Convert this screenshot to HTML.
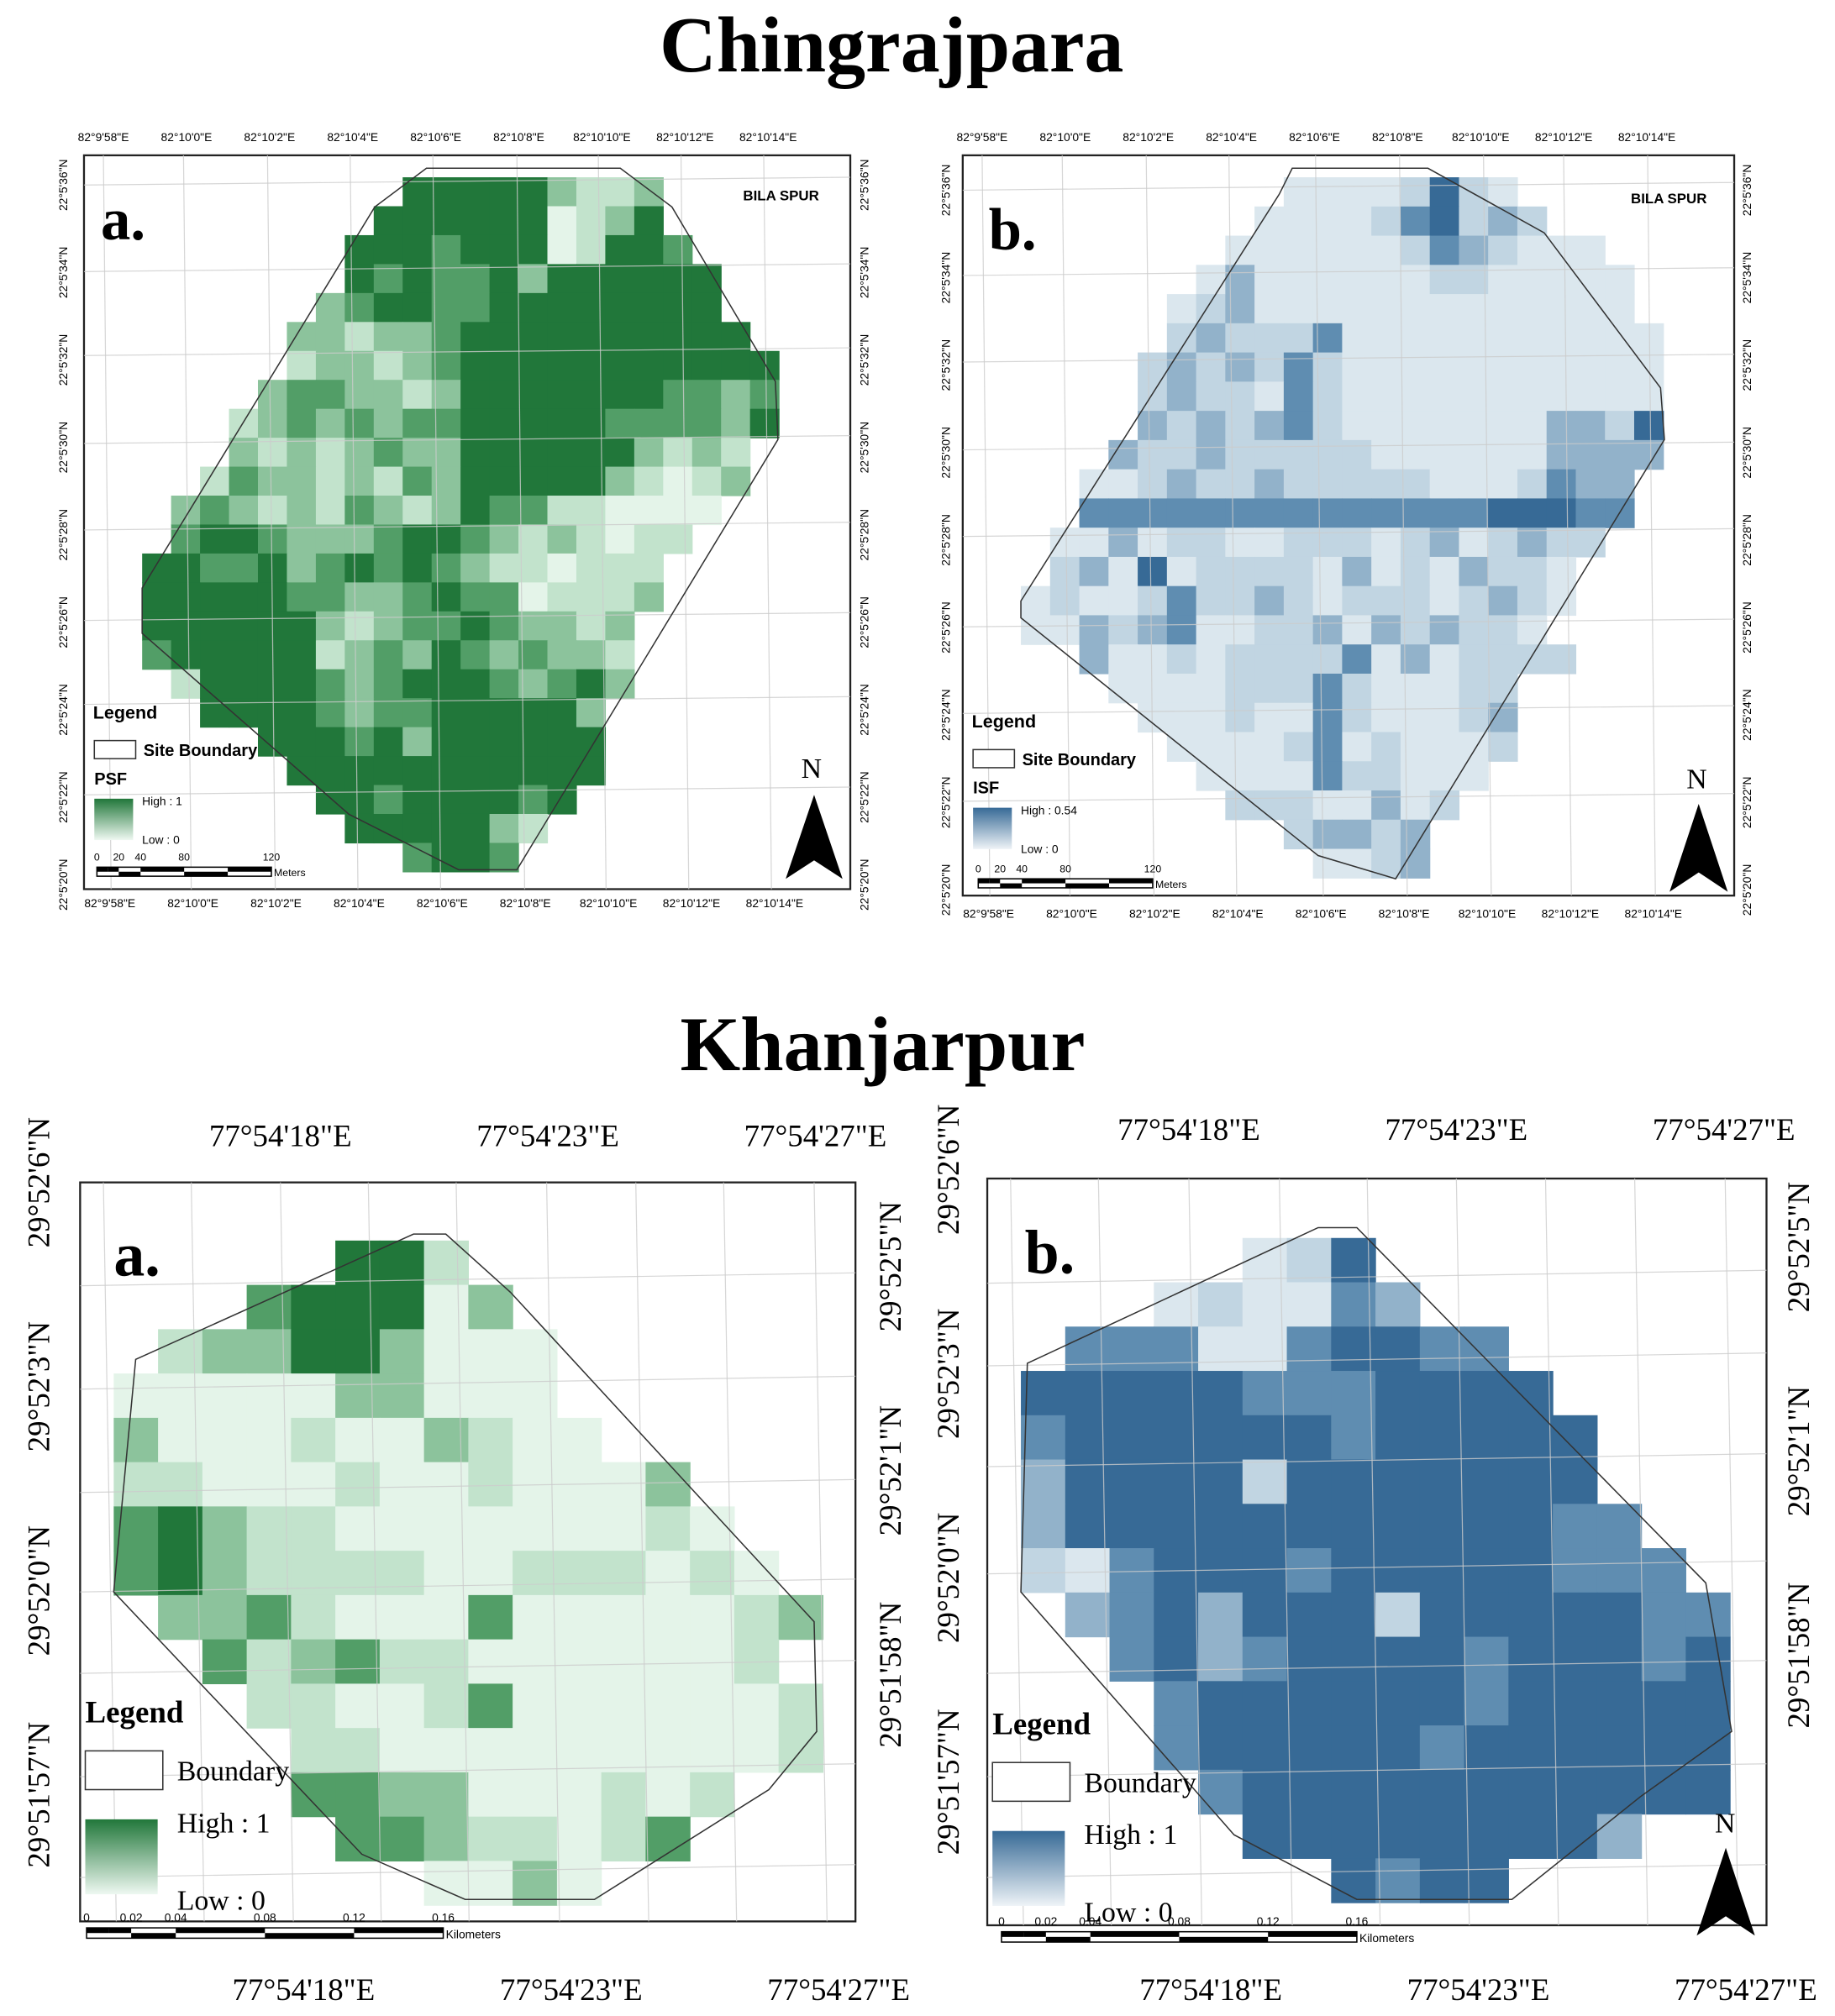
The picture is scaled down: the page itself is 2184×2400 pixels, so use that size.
<!DOCTYPE html>
<html><head><meta charset="utf-8"><style>
html,body{margin:0;padding:0;background:#fff}
svg{display:block}
.s{font-family:"Liberation Sans",sans-serif}
.r{font-family:"Liberation Serif",serif}
</style></head><body>
<svg id="fig" width="2184" height="2400" viewBox="0 0 1420 1560" xmlns="http://www.w3.org/2000/svg">
<rect width="1420" height="1560" fill="#fff"/>
<text x="690" y="55" text-anchor="middle" class="r" font-weight="bold" font-size="61">Chingrajpara</text>
<text x="683" y="828" text-anchor="middle" class="r" font-weight="bold" font-size="60">Khanjarpur</text>
<g id="layer"></g>
</svg>
<script>
// ---------- data ----------
const tlRows=[".........444442112","........4444440124",".......444344401443",".......4343342444444","......23443344444444",".....2212234444444444",".....12212344444444444","....233221244444443323","...1232323344444333324","...212123224444442121","..1322121324444421012",".2321213212433110000",".344322234432121011","443342343432110111","444443322343301112","44444421233432212","34444412324323221",".1444432344432342","..44443233444442","....444342444444",".....44444444444","......443444434",".......4444421",".........3443"];
const trRows=[".........00001410","........0000134121",".......0000001321000","......020000001100000",".....0120000000000000",".....12111300000000000","....121213100000000000","....121103100000000000","....212123100000002214","...2112111110000002222","..0012112111110001322","..3333333333333344433",".0020110011101201211",".120401111020102110","0100131121011101210","002123001120212110","..20010111130201111","...00001113100011","....0001003100012",".....000013010001","......0000311000",".......11100201",".........12212","..........0012"];
const blRows=[".....441","...344402",".122442000","0000022000","20001002100","1100010010002","34211000000010","342111100111010",".223100030000012","..3123110000001","...1100130000001","....110000000001","....3322000101",".....33211013",".......0020"];
const brRows=[".....014","...010032",".3330034433","444443334444","3444444344444","2444414444444","24444444444433","103444344444333",".234244414444433","..34234444344434","...3444444344444","...3444443444444","....344444444444",".....444444442",".......4344"];
const greens=["#e4f4e9","#c2e3cc","#8cc39c","#529e67","#21773a"];
const blues=["#dbe7ee","#c1d5e2","#92b2ca","#5f8db1","#376a96"];
const topLon=["82°9'58\"E","82°10'0\"E","82°10'2\"E","82°10'4\"E","82°10'6\"E","82°10'8\"E","82°10'10\"E","82°10'12\"E","82°10'14\"E"];
const topLat=["22°5'36\"N","22°5'34\"N","22°5'32\"N","22°5'30\"N","22°5'28\"N","22°5'26\"N","22°5'24\"N","22°5'22\"N","22°5'20\"N"];
const botLon=["77°54'18\"E","77°54'23\"E","77°54'27\"E"];
const botLatL=["29°52'6\"N","29°52'3\"N","29°52'0\"N","29°51'57\"N"];
const botLatR=["29°52'5\"N","29°52'1\"N","29°51'58\"N"];
const scaleTop=["0","20","40","80","120"];
const scaleBot=["0","0.02","0.04","0.08","0.12","0.16"];

const NS="http://www.w3.org/2000/svg";
const L=document.getElementById('layer');
function mk(tag,attrs,parent,txt){const e=document.createElementNS(NS,tag);for(const k in attrs)e.setAttribute(k,attrs[k]);if(txt!==undefined)e.textContent=txt;(parent||L).appendChild(e);return e;}

function panel(o){
  const g=mk('g',{});
  
  
  mk('rect',{x:o.fx,y:o.fy,width:o.fw,height:o.fh,fill:'#fff',stroke:'#222','stroke-width':1.5},g);
  o.rows.forEach((row,r)=>{for(let c=0;c<row.length;c++){const ch=row[c];if(ch==='.')continue;
    const cell=mk('rect',{x:o.gx+c*o.cw,y:o.gy+r*o.ch,width:o.cw+0.4,height:o.ch+0.4,fill:o.pal[+ch]},g);
    
    }});
  o.vx.forEach(x=>mk('line',{x1:x,y1:o.fy,x2:x+o.tilt,y2:o.fy+o.fh,stroke:'#ccc','stroke-width':0.8,opacity:0.8},g));
  o.hy.forEach(y=>mk('line',{x1:o.fx,y1:y,x2:o.fx+o.fw,y2:y-o.tilt,stroke:'#ccc','stroke-width':0.8,opacity:0.8},g));
  const b=mk('polygon',{points:o.bnd,fill:'none',stroke:'#333','stroke-width':1},g);
  
  
  return g;
}
function arrow(x,y,w,h){const g=mk('g',{});
  
  
  mk('polygon',{points:`${x+w/2},${y} ${x},${y+h} ${x+w/2},${y+h*0.78} ${x+w},${y+h}`,fill:'#000'},g);}

panel({name:'psf-map-chingrajpara',fx:65,fy:120,fw:593,fh:568,gx:110,gy:137,cw:22.4,ch:22.4,rows:tlRows,pal:greens,
 vx:[80,142,207,271,335,400,463,527,591],hy:[143,210,275,343,410,480,545,615],tilt:6,
 bnd:"330,130 480,130 520,160 600,295 602,340 400,673 355,673 270,630 110,490 110,455 290,160"});
panel({name:'isf-map-chingrajpara',fx:745,fy:120,fw:597,fh:573,gx:790,gy:137,cw:22.6,ch:22.6,rows:trRows,pal:blues,
 vx:[760,822,887,951,1018,1083,1148,1210,1275],hy:[147,213,280,348,415,485,552,620],tilt:6,
 bnd:"1000,130 1105,130 1195,180 1285,300 1288,340 1080,680 1020,662 790,478 790,465 990,150"});
panel({name:'psf-map-khanjarpur',fx:62,fy:915,fw:600,fh:572,gx:88,gy:960,cw:34.3,ch:34.3,rows:blRows,pal:greens,
 vx:[80,148,217,285,353,423,492,560,630],hy:[995,1075,1155,1232,1295,1375,1453],tilt:10,
 bnd:"105,1052 320,955 345,955 395,1000 630,1255 632,1340 595,1385 460,1470 360,1470 280,1435 88,1232"});
panel({name:'isf-map-khanjarpur',fx:764,fy:912,fw:603,fh:578,gx:790,gy:958,cw:34.3,ch:34.3,rows:brRows,pal:blues,
 vx:[782,850,920,990,1058,1127,1196,1265,1335],hy:[993,1057,1135,1218,1295,1375,1453],tilt:10,
 bnd:"795,1055 1020,950 1050,950 1320,1225 1340,1340 1270,1390 1170,1470 1050,1470 955,1420 790,1232"});

function txt(name,x,y,s,opt){const t=mk('text',Object.assign({x:x,y:y},opt||{}),L,s);return t;}
[[80,'tl'],[760,'tr']].forEach(([x0,k])=>{
  topLon.forEach((s,i)=>{const x=x0+i*64.3;
    txt('lon-tick-top',x,109,s,{'text-anchor':'middle','class':'s','font-size':9});
    txt('lon-tick-bottom',x+5,(k==='tl'?702:710),s,{'text-anchor':'middle','class':'s','font-size':9});});
});
[[52,672,143],[735,1355,147]].forEach(([xl,xr,y0])=>{
  topLat.forEach((s,i)=>{const y=y0+i*67.7;
    txt('lat-tick-left',xl,y,s,{'text-anchor':'middle','class':'s','font-size':9,transform:`rotate(-90 ${xl} ${y})`});
    txt('lat-tick-right',xr,y,s,{'text-anchor':'middle','class':'s','font-size':9,transform:`rotate(-90 ${xr} ${y})`});});
});
[[217,235,887],[920,937,882]].forEach(([xt,xb,yt])=>{
  botLon.forEach((s,i)=>{txt('lon-tick-top',xt+i*207,yt,s,{'text-anchor':'middle','class':'r','font-size':24});
    txt('lon-tick-bottom',xb+i*207,1548,s,{'text-anchor':'middle','class':'r','font-size':24});});
});
[[38,915,697,980],[742,905,1400,965]].forEach(([xl,yl,xr,yr])=>{
  botLatL.forEach((s,i)=>{const y=yl+i*158;txt('lat-tick-left',xl,y,s,{'text-anchor':'middle','class':'r','font-size':24,transform:`rotate(-90 ${xl} ${y})`});});
  botLatR.forEach((s,i)=>{const y=yr+i*158;txt('lat-tick-right',xr,y,s,{'text-anchor':'middle','class':'r','font-size':24,transform:`rotate(-90 ${xr} ${y})`});});
});

txt('panel-label-a',78,185,'a.',{'class':'r','font-weight':'bold','font-size':46});
txt('panel-label-b',765,193,'b.',{'class':'r','font-weight':'bold','font-size':46});
txt('panel-label-a',88,987,'a.',{'class':'r','font-weight':'bold','font-size':48});
txt('panel-label-b',793,985,'b.',{'class':'r','font-weight':'bold','font-size':48});
txt('place-label',575,155,'BILA SPUR',{'class':'s','font-weight':'bold','font-size':11});
txt('place-label',1262,157,'BILA SPUR',{'class':'s','font-weight':'bold','font-size':11});

const defs=mk('defs',{});
[['gG','#21773a','#eef8f1'],['gB','#376a96','#eef3f7']].forEach(([id,a,b])=>{const lg=mk('linearGradient',{id:id,x1:0,y1:0,x2:0,y2:1},defs);mk('stop',{offset:0,'stop-color':a},lg);mk('stop',{offset:1,'stop-color':b},lg);});

function smallLegend(x,y,label,high,grad){
  txt('legend-title',x,y,'Legend',{'class':'s','font-weight':'bold','font-size':14});
  mk('rect',{x:x+1,y:y+17,width:32,height:14,fill:'#fff',stroke:'#333'});
  txt('legend-boundary',x+39,y+29,'Site Boundary',{'class':'s','font-weight':'bold','font-size':13});
  txt('legend-layer',x+1,y+51,label,{'class':'s','font-weight':'bold','font-size':13});
  mk('rect',{x:x+1,y:y+62,width:30,height:32,fill:`url(#${grad})`});
  txt('legend-high',x+38,y+67,high,{'class':'s','font-size':9});
  txt('legend-low',x+38,y+97,'Low : 0',{'class':'s','font-size':9});
}
smallLegend(72,556,'PSF','High : 1','gG');
smallLegend(752,563,'ISF','High : 0.54','gB');
function scalebar(x,y,w,labels,unit,fs,lab){
  const g=mk('g',{});
  const h=fs>15?8:7;
  mk('rect',{x:x,y:y,width:w,height:h,fill:'#fff',stroke:'#000','stroke-width':1},g);
  const segs=[0,0.0625,0.125,0.25,0.5,0.75,1];
  for(let i=0;i<segs.length-1;i++){if(i%2===0)mk('rect',{x:x+segs[i]*w,y:y+(i<2?0:h/2),width:(segs[i+1]-segs[i])*w,height:h/2,fill:'#000'},g);
    else mk('rect',{x:x+segs[i]*w,y:y,width:(segs[i+1]-segs[i])*w,height:h/2,fill:'#000'},g);}
  const pos=labels.length===5?[0,0.125,0.25,0.5,1]:[0,0.125,0.25,0.5,0.75,1];
  labels.forEach((s,i)=>txt('scale-label',x+pos[i]*w,y-5,s,{'class':'s','font-size':lab,'text-anchor':'middle'}));
  txt('scale-unit',x+w+2,y+h,unit,{'class':'s','font-size':lab});
}
scalebar(75,671,135,scaleTop,'Meters',9,8);
scalebar(757,680,135,scaleTop,'Meters',9,8);
txt('north-label',628,602,'N',{'class':'r','font-size':22,'text-anchor':'middle'});
arrow(608,615,44,65);
txt('north-label',1313,610,'N',{'class':'r','font-size':22,'text-anchor':'middle'});
arrow(1292,622,45,68);

function bigLegend(x,y,grad){
  txt('legend-title',x,y,'Legend',{'class':'r','font-weight':'bold','font-size':24});
  mk('rect',{x:x,y:y+22,width:60,height:30,fill:'#fff',stroke:'#333'});
  txt('legend-boundary',x+71,y+45,'Boundary',{'class':'r','font-size':22});
  mk('rect',{x:x,y:y+75,width:56,height:58,fill:`url(#${grad})`});
  txt('legend-high',x+71,y+85,'High : 1',{'class':'r','font-size':22});
  txt('legend-low',x+71,y+145,'Low : 0',{'class':'r','font-size':22});
}
bigLegend(66,1333,'gG');
bigLegend(768,1342,'gB');
scalebar(67,1492,276,scaleBot,'Kilometers',16,9);
scalebar(775,1495,275,scaleBot,'Kilometers',16,9);
txt('north-label',1335,1418,'N',{'class':'r','font-size':22,'text-anchor':'middle'});
arrow(1313,1430,45,68);
</script>
</body></html>
